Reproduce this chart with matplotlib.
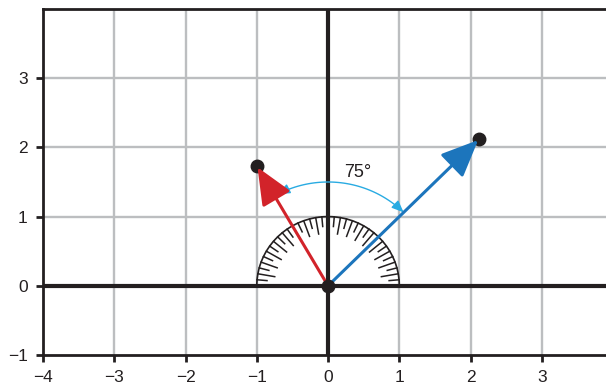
import numpy as np
import matplotlib.pyplot as plt
from matplotlib.patches import FancyArrowPatch
from matplotlib.path import Path

plt.rcParams['font.family'] = ['Liberation Sans', 'DejaVu Sans']

# vectors (tip coordinates)
red_tip = [-1.0, 1.73]
blue_tip = [2.12, 2.12]
origin = [0.0, 0.0]

# angle between the vectors
angle_label = "75°"
arc_start_deg = 45
arc_end_deg = 118
arc_radius = 1.5

xticks = [-4, -3, -2, -1, 0, 1, 2, 3]
yticks = [-1, 0, 1, 2, 3]

RED = '#d2232a'
BLUE = '#1c75bc'
LIGHTBLUE = '#29abe2'
INK = '#231f20'
GRID = '#bcbec0'

fig = plt.figure(figsize=(6.06, 3.86), dpi=100)
ax = fig.add_axes([43 / 606, 31 / 386, 563 / 606, 346 / 386])
ax.set_xlim(-4, 3.9)
ax.set_ylim(-1, 4.0)

# grid
for x in xticks[1:]:
    ax.axvline(x, color=GRID, lw=1.7, zorder=0)
for y in yticks[1:]:
    ax.axhline(y, color=GRID, lw=1.7, zorder=0)

# main axes through origin
ax.axhline(0, color=INK, lw=3, zorder=2)
ax.axvline(0, color=INK, lw=3, zorder=2)

# protractor
th = np.linspace(0, np.pi, 200)
ax.plot(np.cos(th), np.sin(th), color=INK, lw=1.2, zorder=3)
for deg in range(5, 180, 5):
    t = np.radians(deg)
    inner = 0.76 if deg % 10 == 0 else 0.86
    ax.plot([inner * np.cos(t), np.cos(t)], [inner * np.sin(t), np.sin(t)],
            color=INK, lw=1.1, zorder=3)

# vectors
for tip, col in [(red_tip, RED), (blue_tip, BLUE)]:
    ax.plot(*tip, 'o', color=INK, ms=9, zorder=4)
    arr = FancyArrowPatch(origin, tip, arrowstyle='-|>,head_length=1.15,head_width=0.5',
                          mutation_scale=20, color=col, lw=2.2,
                          shrinkA=0, shrinkB=1, zorder=5)
    ax.add_patch(arr)
ax.plot(*origin, 'o', color=INK, ms=9, zorder=6)

# angle arc
a = np.radians(np.linspace(arc_start_deg, arc_end_deg, 60))
verts = np.column_stack([arc_radius * np.cos(a), arc_radius * np.sin(a)])
codes = [Path.MOVETO] + [Path.LINETO] * (len(verts) - 1)
arc = FancyArrowPatch(path=Path(verts, codes), arrowstyle='<|-|>,head_length=0.6,head_width=0.25',
                      mutation_scale=12, color=LIGHTBLUE, lw=1.0, zorder=4)
ax.add_patch(arc)
ax.text(0.41, 1.64, angle_label, fontsize=13, color=INK, ha='center', va='center')

# spines and ticks
ax.spines['right'].set_visible(False)
for s in ['left', 'bottom', 'top']:
    ax.spines[s].set_color(INK)
    ax.spines[s].set_linewidth(2)
ax.set_xticks(xticks)
ax.set_yticks(yticks)
ax.tick_params(direction='out', length=5, width=2, color=INK,
               labelsize=12.5, labelcolor=INK, pad=6)

fig.savefig('out.png', dpi=100)
